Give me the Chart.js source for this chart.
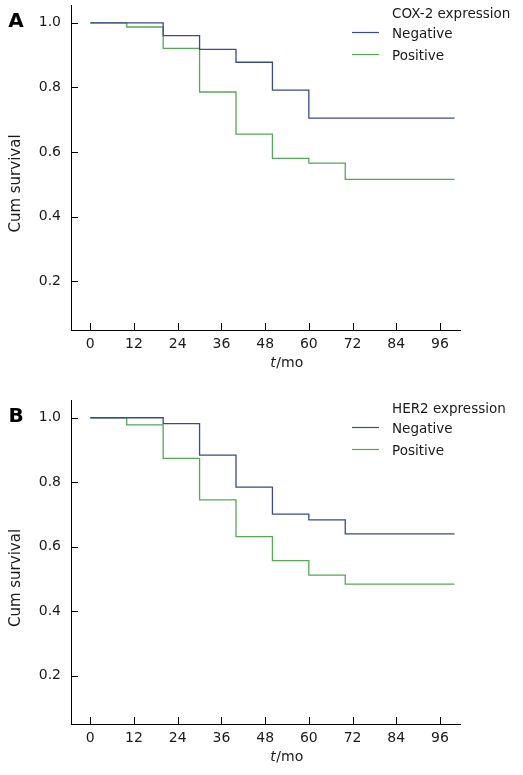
<!DOCTYPE html>
<html lang="en">
<head>
    <meta charset="UTF-8">
    <title>Cum survival</title>
    <style>
        body {
            margin: 0;
            background: #fff;
        }
        canvas {
            display: block;
        }
    </style>
    <script src="https://cdn.jsdelivr.net/npm/chart.js"></script>
</head>
<body>
    <canvas id="chartA" width="523" height="390"></canvas>
    <canvas id="chartB" width="523" height="385"></canvas>
    <script>
        // follow-up times (mo) where the curves can step down
        const months = [0, 10, 20, 30, 40, 50, 60, 70, 100];
        const xTicks = [0, 12, 24, 36, 48, 60, 72, 84, 96];
        const yTicks = [0.2, 0.4, 0.6, 0.8, 1.0];

        // A: COX-2 expression
        const coxNegative = [1.0, 1.0, 0.960, 0.918, 0.878, 0.792, 0.705, 0.705, 0.705];
        const coxPositive = [1.0, 0.987, 0.921, 0.786, 0.656, 0.581, 0.566, 0.516, 0.516];

        // B: HER2 expression
        const herNegative = [1.0, 1.0, 0.982, 0.884, 0.785, 0.701, 0.683, 0.640, 0.640];
        const herPositive = [1.0, 0.978, 0.874, 0.745, 0.631, 0.557, 0.512, 0.484, 0.484];

        const BLUE = '#3a4a8a';
        const GREEN = '#55a855';
        const INK = '#1a1a1a';
        const FONT = '"DejaVu Sans", Verdana, sans-serif';

        // inward ticks, axis titles, legend and panel letter
        const kmDecor = {
            id: 'kmDecor',
            afterDraw(chart, args, opts) {
                const ctx = chart.ctx;
                const area = chart.chartArea;
                const x = chart.scales.x;
                const y = chart.scales.y;
                ctx.save();
                ctx.strokeStyle = '#000';
                ctx.lineWidth = 1;
                ctx.beginPath();
                x.ticks.forEach(t => {
                    const px = Math.round(x.getPixelForValue(t.value)) + 0.5;
                    ctx.moveTo(px, area.bottom);
                    ctx.lineTo(px, area.bottom - 7);
                });
                y.ticks.forEach(t => {
                    const py = Math.round(y.getPixelForValue(t.value)) + 0.5;
                    ctx.moveTo(area.left, py);
                    ctx.lineTo(area.left + 7, py);
                });
                ctx.stroke();

                ctx.fillStyle = INK;
                ctx.textBaseline = 'middle';

                // y title
                ctx.save();
                ctx.translate(16, (area.top + area.bottom) / 2 + 16);
                ctx.rotate(-Math.PI / 2);
                ctx.textAlign = 'center';
                ctx.font = '15px ' + FONT;
                ctx.fillText('Cum survival', 0, 0);
                ctx.restore();

                // x title: italic t + /mo
                ctx.textAlign = 'left';
                const italic = 'italic 14px ' + FONT;
                const normal = '14px ' + FONT;
                ctx.font = italic;
                const wT = ctx.measureText('t').width;
                ctx.font = normal;
                const wRest = ctx.measureText('/mo').width;
                const cx = (area.left + area.right) / 2 + 21;
                const ty = area.bottom + 33;
                const sx = cx - (wT + wRest) / 2;
                ctx.font = italic;
                ctx.fillText('t', sx, ty);
                ctx.font = normal;
                ctx.fillText('/mo', sx + wT + 0.5, ty);

                // legend
                const lx = area.right - 108;
                const tx = area.right - 68;
                let ly = area.top + 9;
                ctx.font = '13.5px ' + FONT;
                ctx.fillText(opts.legendTitle, tx, ly);
                ly += 20;
                chart.data.datasets.forEach(ds => {
                    ctx.strokeStyle = ds.borderColor;
                    ctx.lineWidth = 1.2;
                    ctx.beginPath();
                    ctx.moveTo(lx, Math.round(ly) - 1.5);
                    ctx.lineTo(lx + 27, Math.round(ly) - 1.5);
                    ctx.stroke();
                    ctx.fillText(ds.label, tx, ly);
                    ly += 22;
                });

                // panel letter
                ctx.textAlign = 'center';
                ctx.font = 'bold 20px ' + FONT;
                ctx.fillStyle = '#000';
                ctx.fillText(opts.letter, 16, y.getPixelForValue(1.0) - 1);
                ctx.restore();
            }
        };

        function toPoints(values) {
            return values.map((v, i) => ({ x: months[i], y: v }));
        }

        function makeChart(id, letter, legendTitle, negative, positive, pad) {
            const ctx = document.getElementById(id).getContext('2d');
            return new Chart(ctx, {
                type: 'line',
                data: {
                    datasets: [{
                        label: 'Negative',
                        data: toPoints(negative),
                        borderColor: BLUE,
                        borderWidth: 1.3,
                        stepped: 'before',
                        pointRadius: 0,
                        fill: false
                    }, {
                        label: 'Positive',
                        data: toPoints(positive),
                        borderColor: GREEN,
                        borderWidth: 1.3,
                        stepped: 'before',
                        pointRadius: 0,
                        fill: false
                    }]
                },
                options: {
                    responsive: false,
                    animation: false,
                    layout: {
                        padding: { left: 0, right: 63, top: pad.top, bottom: pad.bottom }
                    },
                    plugins: {
                        legend: { display: false },
                        tooltip: { enabled: false },
                        kmDecor: { letter: letter, legendTitle: legendTitle }
                    },
                    scales: {
                        x: {
                            type: 'linear',
                            min: -5.3,
                            max: 101.5,
                            afterBuildTicks: s => { s.ticks = xTicks.map(v => ({ value: v })); },
                            afterFit: s => {
                                s.height = 45;
                                s.paddingLeft = 0;
                                s.paddingRight = 0;
                            },
                            grid: { display: false, drawTicks: false },
                            border: { display: true, color: '#000', width: 1 },
                            ticks: {
                                autoSkip: false,
                                maxRotation: 0,
                                padding: 6,
                                color: INK,
                                font: { family: FONT, size: 14 }
                            }
                        },
                        y: {
                            min: 0.05,
                            max: 1.055,
                            afterBuildTicks: s => { s.ticks = yTicks.map(v => ({ value: v })); },
                            afterFit: s => {
                                s.width = 71;
                                s.paddingTop = 0;
                                s.paddingBottom = 0;
                            },
                            grid: { display: false, drawTicks: false },
                            border: { display: true, color: '#000', width: 1 },
                            ticks: {
                                padding: 10,
                                color: INK,
                                font: { family: FONT, size: 14 },
                                callback: v => v.toFixed(1)
                            }
                        }
                    }
                },
                plugins: [kmDecor]
            });
        }

        makeChart('chartA', 'A', 'COX-2 expression', coxNegative, coxPositive, { top: 5, bottom: 15 });
        makeChart('chartB', 'B', 'HER2 expression', herNegative, herPositive, { top: 10, bottom: 6 });
    </script>
</body>
</html>
